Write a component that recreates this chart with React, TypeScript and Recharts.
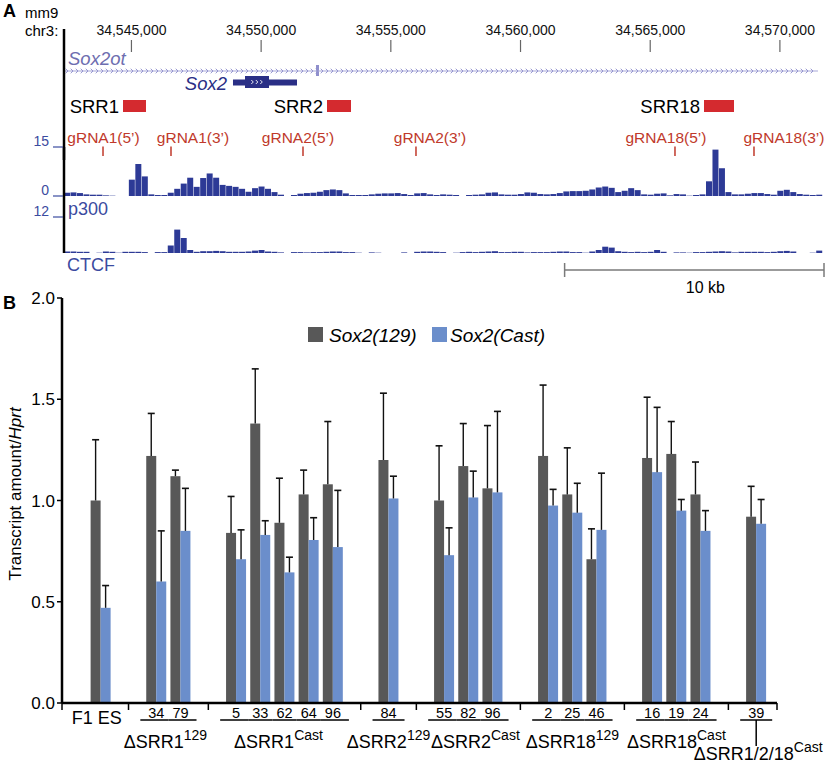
import React from 'react';
import {
  ComposedChart,
  BarChart,
  Bar,
  XAxis,
  YAxis,
  ReferenceLine,
  ReferenceArea,
  ReferenceDot,
} from 'recharts';

const FONT = '"Liberation Sans", Arial, Helvetica, sans-serif';

// ---------- panel A: mm9 chr3 browser view ----------
const genomeStart = 34542400;
const genomeEnd = 34571700;
const coordTicks = [34545000, 34550000, 34555000, 34560000, 34565000, 34570000];
const binSize = 250;

const srrNames = ['SRR1', 'SRR2', 'SRR18'];
const srrStarts = [34544675, 34552539, 34567073];
const srrEnds = [34545561, 34553464, 34568230];

const gRnaNames = ['gRNA1(5\u2019)', 'gRNA1(3\u2019)', 'gRNA2(5\u2019)', 'gRNA2(3\u2019)', 'gRNA18(5\u2019)', 'gRNA18(3\u2019)'];
const gRnaSites = [34543904, 34546525, 34551614, 34555970, 34565955, 34569001];

const sox2Gene = [34548915, 34551383];
const sox2Cds = [34549378, 34550303];
const sox2otSpan = [34542400, 34571468];
const sox2otExon = [34552115, 34552231];
const scaleBar = [34561700, 34571700];

// ChIP signal, 250 bp bins from genomeStart
const p300Signal = [
  1.0, 1.1, 0.9, 0.5, 0.4, 0.4, 0.2, 0.1, 0, 0,
  5.0, 9.8, 6.0, 0.5, 0.3, 0.3, 1.0, 2.2, 3.8, 5.6,
  2.8, 5.5, 6.9, 5.6, 3.4, 3.1, 2.8, 2.2, 1.3, 2.4,
  2.9, 2.2, 1.2, 0.4, 0, 0.3, 0.7, 0.9, 1.0, 1.3,
  1.8, 2.0, 1.8, 0.8, 0.3, 0.3, 0.3, 0.5, 0.7, 0.8,
  0.8, 0.9, 0.6, 0.3, 0.8, 0.9, 0.5, 0.3, 0.5, 0.4,
  0.3, 0, 0.3, 0.4, 0.5, 1.0, 1.1, 0.5, 0.4, 0.4,
  0.6, 1.1, 1.0, 0.6, 0.5, 0.6, 0.9, 1.4, 1.5, 1.5,
  1.6, 2.0, 2.6, 2.9, 2.5, 1.2, 1.6, 2.4, 1.8, 0.5,
  0.4, 0.7, 0.8, 0.2, 0.6, 0.5, 0.1, 0.3, 0.5, 4.5,
  14.2, 8.5, 1.2, 0.5, 0.5, 0.7, 0.9, 0.9, 0.6, 0.4,
  1.6, 1.9, 1.2, 0.6, 0.4, 0.3, 0.4,
];
const ctcfSignal = [
  0.5, 0.5, 0.4, 0.4, 0, 0.1, 0.5, 0.4, 0.1, 0.4,
  0.4, 0.4, 0.3, 0, 0.3, 0.3, 2.5, 7.8, 5.0, 1.0,
  0.4, 0.6, 0.6, 0.7, 0.6, 0.4, 0.4, 0.4, 0.5, 0.8,
  1.0, 0.5, 0.4, 0.2, 0, 0.3, 0.3, 0.2, 0.3, 0.3,
  0.4, 0.5, 0.5, 0.3, 0.3, 0.1, 0, 0.2, 0.1, 0,
  0, 0, 0.2, 0, 0.4, 0.5, 0.5, 0.4, 0.3, 0,
  0.1, 0.3, 0.4, 0.3, 0.4, 0.5, 0.6, 0.3, 0.3, 0.4,
  0.4, 0.2, 0.3, 0.3, 0.3, 0.4, 0.5, 0.5, 0.3, 0.3,
  0.1, 0.5, 1.0, 2.1, 1.8, 0.6, 0.4, 0.3, 0.4, 0.3,
  0.4, 1.0, 0.4, 0, 0.2, 0.2, 0.1, 0.3, 0.3, 0.4,
  0.5, 0.6, 0.5, 0.2, 0.4, 0.4, 0.4, 0.4, 0.3, 0.4,
  0.6, 0.7, 0.5, 0, 0, 0.1, 0.8,
];

// ---------- panel B: allele-specific Sox2 expression ----------
const groupNames = ['F1 ES', '\u0394SRR1', '\u0394SRR1', '\u0394SRR2', '\u0394SRR2', '\u0394SRR18', '\u0394SRR18', '\u0394SRR1/2/18'];
const groupAlleles = ['', '129', 'Cast', '129', 'Cast', '129', 'Cast', 'Cast'];
const clones = ['', '34', '79', '5', '33', '62', '64', '96', '84', '55', '82', '96', '2', '25', '46', '16', '19', '24', '39'];
const cloneGroup = [0, 1, 1, 2, 2, 2, 2, 2, 3, 4, 4, 4, 5, 5, 5, 6, 6, 6, 7];
const sox2_129 = [1.0, 1.22, 1.12, 0.84, 1.38, 0.89, 1.03, 1.08, 1.2, 1.0, 1.17, 1.06, 1.22, 1.03, 0.71, 1.21, 1.23, 1.03, 0.92];
const sox2_129Err = [0.3, 0.21, 0.03, 0.18, 0.27, 0.22, 0.12, 0.31, 0.33, 0.27, 0.21, 0.31, 0.35, 0.23, 0.15, 0.3, 0.16, 0.16, 0.15];
const sox2Cast = [0.47, 0.6, 0.85, 0.71, 0.83, 0.645, 0.805, 0.77, 1.01, 0.73, 1.015, 1.04, 0.975, 0.94, 0.855, 1.14, 0.95, 0.85, 0.885];
const sox2CastErr = [0.11, 0.25, 0.21, 0.145, 0.07, 0.075, 0.11, 0.28, 0.11, 0.135, 0.13, 0.4, 0.08, 0.145, 0.28, 0.32, 0.055, 0.1, 0.12];

// ---------- styling / layout ----------
const TRACK_BLUE = '#2d3a96';
const AXIS_BLUE = '#3b4ba0';
const GENE_NAVY = '#2a2f86';
const SOX2OT = '#8f8fcc';
const SRR_RED = '#d42a2f';
const GRNA_RED = '#c0392b';
const GRAY = '#585858';
const BLUE = '#6b8ecb';

const A_LEFT = 64;
const A_RIGHT = 824;
const PX_PER_BP = (A_RIGHT - A_LEFT) / (genomeEnd - genomeStart);
const gRnaLabelShift = [0.5, 22, -5, 14, -9, 30];
const groupLabelShift = [0, -3, -6, 0, 7, 0, 0, 2];

// annotation rows (px below the coordinate axis)
const rows = {
  sox2otLabel: 29, sox2ot: 42, exonTop: 36, exonBottom: 47,
  sox2Label: 54.5, utrTop: 50.5, utrBottom: 56.5, cdsTop: 47, cdsBottom: 59,
  srrTop: 71, srrBottom: 83, srrLabel: 77,
  gRnaLabel: 108, gRnaTop: 117.5, gRnaBottom: 127,
};

// panel B x layout: clone slots with extra space between groups
const GROUP_GAP = 1.3;
const uPos = clones.map((_, i) => i + GROUP_GAP * cloneGroup[i]);
const uLo = -1.6;
const uHi = uPos[uPos.length - 1] + 0.86;
const B_LEFT = 62;
const B_RIGHT = 777;
const PX_PER_U = (B_RIGHT - B_LEFT) / (uHi - uLo);
const boundaryTicks = [uLo, uHi];
for (let i = 1; i < uPos.length; i++) {
  if (cloneGroup[i] !== cloneGroup[i - 1]) boundaryTicks.push((uPos[i] + uPos[i - 1]) / 2);
}
const xTicks = [...boundaryTicks, ...uPos].sort((a, b) => a - b);

const barData = clones.map((c, i) => ({
  u: uPos[i],
  clone: c,
  g129: sox2_129[i],
  g129Err: sox2_129Err[i],
  cast: sox2Cast[i],
  castErr: sox2CastErr[i],
}));

const Txt = ({ left, cy, size, children, color = '#000', bold = false, italic = false }: any) => (
  <div
    style={{
      position: 'absolute', left, top: cy - size * 0.5, fontSize: size, lineHeight: `${size}px`,
      color, fontWeight: bold ? 700 : 400, fontStyle: italic ? 'italic' : 'normal', whiteSpace: 'nowrap',
    }}
  >
    {children}
  </div>
);

const textShape = (label: string, size: number, fill: string, anchor = 'middle', dx = 0, italic = false) => (p: any) => (
  <text
    x={p.cx + dx} y={p.cy} textAnchor={anchor} dominantBaseline="central" fontSize={size}
    fill={fill} fontStyle={italic ? 'italic' : 'normal'} fontFamily={FONT}
  >
    {label}
  </text>
);

const renderCoordTick = (p: any) => (
  <g>
    <text x={p.x} y={p.y + 1} textAnchor="middle" dominantBaseline="central" fontSize={14} fill="#111" fontFamily={FONT}>
      {Number(p.payload.value).toLocaleString('en-US')}
    </text>
    <line x1={p.x} x2={p.x} y1={p.y + 11} y2={p.y + 23} stroke="#666" strokeWidth={1.2} />
  </g>
);

const ChevronLine = (p: any) => {
  const { x1, y1, x2 } = p;
  const n = Math.floor((x2 - x1) / 5);
  let d = '';
  for (let i = 0; i < n; i++) {
    const cx = x1 + 3 + i * 5;
    d += `M${cx - 1.3},${y1 - 2.3}L${cx + 1},${y1}L${cx - 1.3},${y1 + 2.3}`;
  }
  return (
    <g>
      <line x1={x1} x2={x2} y1={y1} y2={y1} stroke="#a7a7d8" strokeWidth={1.1} />
      <path d={d} stroke={SOX2OT} fill="none" strokeWidth={0.9} />
    </g>
  );
};

const CdsArrows = (p: any) => {
  let d = '';
  for (let i = -1; i <= 1; i++) {
    const cx = p.cx + i * 4.5;
    d += `M${cx - 1.2},${p.cy - 2}L${cx + 0.8},${p.cy}L${cx - 1.2},${p.cy + 2}`;
  }
  return <path d={d} stroke="#fff" fill="none" strokeWidth={0.9} />;
};

const AnnotationTrack = () => (
  <ComposedChart width={825} height={160} data={coordTicks.map((c) => ({ c }))} margin={{ top: 0, right: 825 - A_RIGHT, bottom: 0, left: 0 }}>
    <XAxis
      type="number" dataKey="c" orientation="top" domain={[genomeStart, genomeEnd]} allowDataOverflow
      ticks={coordTicks} interval={0} height={29} axisLine={false} tickLine={false} tickSize={0} tickMargin={0}
      tick={renderCoordTick}
    />
    <YAxis
      type="number" domain={[0, 131]} reversed allowDataOverflow width={A_LEFT} tick={false}
      axisLine={{ stroke: '#000', strokeWidth: 2.5 }}
    />
    {/* Sox2ot */}
    <ReferenceLine
      segment={[{ x: sox2otSpan[0], y: rows.sox2ot }, { x: sox2otSpan[1], y: rows.sox2ot }]}
      shape={ChevronLine} ifOverflow="visible"
    />
    <ReferenceArea x1={sox2otExon[0]} x2={sox2otExon[1]} y1={rows.exonTop} y2={rows.exonBottom} fill={SOX2OT} fillOpacity={1} ifOverflow="visible" />
    <ReferenceDot x={genomeStart} y={rows.sox2otLabel} r={0} ifOverflow="visible" shape={textShape('Sox2ot', 18.5, '#6e6eb0', 'start', 4, true)} />
    {/* Sox2 */}
    <ReferenceArea x1={sox2Gene[0]} x2={sox2Gene[1]} y1={rows.utrTop} y2={rows.utrBottom} fill={GENE_NAVY} fillOpacity={1} ifOverflow="visible" />
    <ReferenceArea x1={sox2Cds[0]} x2={sox2Cds[1]} y1={rows.cdsTop} y2={rows.cdsBottom} fill={GENE_NAVY} fillOpacity={1} ifOverflow="visible" />
    <ReferenceDot x={(sox2Cds[0] + sox2Cds[1]) / 2} y={(rows.cdsTop + rows.cdsBottom) / 2} r={0} ifOverflow="visible" shape={CdsArrows} />
    <ReferenceDot x={sox2Gene[0]} y={rows.sox2Label} r={0} ifOverflow="visible" shape={textShape('Sox2', 18.5, GENE_NAVY, 'end', -6, true)} />
    {/* SRR deletions */}
    {srrNames.map((name, i) => (
      <ReferenceArea key={name} x1={srrStarts[i]} x2={srrEnds[i]} y1={rows.srrTop} y2={rows.srrBottom} fill={SRR_RED} fillOpacity={1} ifOverflow="visible" />
    ))}
    {srrNames.map((name, i) => (
      <ReferenceDot key={`l-${name}`} x={srrStarts[i]} y={rows.srrLabel} r={0} ifOverflow="visible" shape={textShape(name, 18.5, '#000', 'end', -4)} />
    ))}
    {/* gRNAs */}
    {gRnaNames.map((name, i) => (
      <ReferenceLine
        key={name} segment={[{ x: gRnaSites[i], y: rows.gRnaTop }, { x: gRnaSites[i], y: rows.gRnaBottom }]}
        stroke={GRNA_RED} strokeWidth={1.5} ifOverflow="visible"
      />
    ))}
    {gRnaNames.map((name, i) => (
      <ReferenceDot key={`l-${name}`} x={gRnaSites[i]} y={rows.gRnaLabel} r={0} ifOverflow="visible" shape={textShape(name, 15.5, GRNA_RED, 'middle', gRnaLabelShift[i])} />
    ))}
  </ComposedChart>
);

const renderTrackTick = (p: any) => (
  <g>
    <line x1={p.x - 11} x2={p.x - 1} y1={p.y} y2={p.y} stroke={AXIS_BLUE} strokeWidth={1.2} />
    <text x={p.x - 15} y={p.y - 6} textAnchor="end" dominantBaseline="central" fontSize={14} fill={AXIS_BLUE} fontFamily={FONT}>
      {p.payload.value}
    </text>
  </g>
);

// chart is drawn with a top margin so the top tick label is not clipped
const TRACK_TOP_PAD = 18;

const SignalTrack = ({ values, max, height, padBottom }: any) => {
  const data = values.map((v: number, i: number) => ({ pos: genomeStart + i * binSize, v }));
  const right = 825 - A_LEFT - values.length * binSize * PX_PER_BP;
  return (
    <BarChart width={825} height={height + TRACK_TOP_PAD} data={data} margin={{ top: TRACK_TOP_PAD, right, bottom: 0, left: 0 }} barCategoryGap={0}>
      <XAxis dataKey="pos" hide />
      <YAxis
        type="number" domain={[0, max]} ticks={[0, max]} allowDataOverflow width={A_LEFT}
        padding={{ top: 0, bottom: padBottom }} tickSize={0} tickMargin={0} tickLine={false}
        tick={renderTrackTick} axisLine={{ stroke: '#000', strokeWidth: 2.5 }}
      />
      <Bar dataKey="v" fill={TRACK_BLUE} isAnimationActive={false} />
    </BarChart>
  );
};

const ScaleBar = () => (
  <ComposedChart width={825} height={40} data={scaleBar.map((c) => ({ c }))} margin={{ top: 0, right: 825 - A_RIGHT, bottom: 0, left: A_LEFT }}>
    <XAxis type="number" dataKey="c" domain={[genomeStart, genomeEnd]} allowDataOverflow hide />
    <YAxis type="number" domain={[0, 40]} reversed allowDataOverflow hide />
    <ReferenceLine segment={[{ x: scaleBar[0], y: 15 }, { x: scaleBar[1], y: 15 }]} stroke="#7a7a7a" strokeWidth={1.5} ifOverflow="visible" />
    <ReferenceLine segment={[{ x: scaleBar[0], y: 8 }, { x: scaleBar[0], y: 22 }]} stroke="#7a7a7a" strokeWidth={1.5} ifOverflow="visible" />
    <ReferenceLine segment={[{ x: scaleBar[1], y: 8 }, { x: scaleBar[1], y: 22 }]} stroke="#7a7a7a" strokeWidth={1.5} ifOverflow="visible" />
    <ReferenceDot x={(scaleBar[0] + scaleBar[1]) / 2} y={32} r={0} ifOverflow="visible" shape={textShape('10 kb', 16, '#000', 'middle', 11)} />
  </ComposedChart>
);

const errorBarShape = (key: string, errKey: string, fill: string) => (p: any) => {
  const { x, y, width, height, payload } = p;
  const v = payload[key];
  const top = v > 0 ? y - (payload[errKey] * height) / v : y;
  const cx = x + width / 2;
  return (
    <g>
      <rect x={x} y={y} width={width} height={height} fill={fill} />
      <line x1={cx} x2={cx} y1={y} y2={top} stroke="#111" strokeWidth={1.4} />
      <line x1={cx - 3.5} x2={cx + 3.5} y1={top} y2={top} stroke="#111" strokeWidth={1.6} />
    </g>
  );
};

const renderCloneTick = (p: any) => {
  const { x, y, payload } = p;
  const v = payload.value;
  if (boundaryTicks.some((b) => Math.abs(b - v) < 1e-6)) {
    return <line x1={x} x2={x} y1={y} y2={y + 7} stroke="#000" strokeWidth={1.5} />;
  }
  const i = uPos.findIndex((u) => Math.abs(u - v) < 1e-6);
  if (i < 0) return <g />;
  const g = cloneGroup[i];
  if (g === 0) {
    return (
      <text x={x - 4} y={y + 15} textAnchor="middle" dominantBaseline="central" fontSize={18} fill="#000" fontFamily={FONT}>
        {groupNames[0]}
      </text>
    );
  }
  const first = cloneGroup[i - 1] !== g;
  const last = cloneGroup[i + 1] !== g;
  const half = PX_PER_U / 2;
  let groupLabel = null;
  if (first) {
    let lastIdx = i;
    while (cloneGroup[lastIdx + 1] === g) lastIdx++;
    const cx = x + ((uPos[lastIdx] - uPos[i]) / 2) * PX_PER_U;
    const isFinal = g === groupNames.length - 1;
    groupLabel = (
      <g>
        {isFinal && <line x1={cx} x2={cx} y1={y + 17} y2={y + 43} stroke="#000" strokeWidth={1.5} />}
        <text x={cx + groupLabelShift[g]} y={isFinal ? y + 57 : y + 45} textAnchor="middle" fontSize={18} fill="#000" fontFamily={FONT}>
          {groupNames[g]}
          <tspan fontSize={14} dy={-8}>{groupAlleles[g]}</tspan>
        </text>
      </g>
    );
  }
  return (
    <g>
      <text x={x} y={y + 10} textAnchor="middle" dominantBaseline="central" fontSize={14.5} fill="#000" fontFamily={FONT}>
        {clones[i]}
      </text>
      <line x1={first ? x - 16 : x - half} x2={last ? x + 16 : x + half} y1={y + 17} y2={y + 17} stroke="#000" strokeWidth={1.5} />
      {groupLabel}
    </g>
  );
};

const ExpressionChart = () => (
  <BarChart width={825} height={485} data={barData} margin={{ top: 18, right: 825 - B_RIGHT, bottom: 0, left: 0 }} barGap={0}>
    <XAxis
      type="number" dataKey="u" domain={[uLo, uHi]} allowDataOverflow ticks={xTicks} interval={0} height={62}
      tickSize={0} tickMargin={0} tickLine={false} axisLine={{ stroke: '#000', strokeWidth: 2.5 }} tick={renderCloneTick}
    />
    <YAxis
      type="number" domain={[0, 2]} ticks={[0, 0.5, 1, 1.5, 2]} width={B_LEFT}
      tickFormatter={(v: number) => v.toFixed(1)} tick={{ fontSize: 17, fill: '#000', fontFamily: FONT }}
      tickSize={5} tickLine={{ stroke: '#000', strokeWidth: 1.5 }} axisLine={{ stroke: '#000', strokeWidth: 2.5 }}
    />
    <Bar dataKey="g129" barSize={10} fill={GRAY} shape={errorBarShape('g129', 'g129Err', GRAY)} isAnimationActive={false} />
    <Bar dataKey="cast" barSize={10} fill={BLUE} shape={errorBarShape('cast', 'castErr', BLUE)} isAnimationActive={false} />
  </BarChart>
);

export default function App() {
  return (
    <div style={{ position: 'absolute', left: 0, top: 0, width: 825, height: 765, background: '#fff', fontFamily: FONT, overflow: 'hidden' }}>
      <div style={{ position: 'absolute', left: 0, top: 0 }}><AnnotationTrack /></div>
      <div style={{ position: 'absolute', left: 0, top: 147 - TRACK_TOP_PAD }}>
        <SignalTrack values={p300Signal} max={15} height={70} padBottom={21} />
      </div>
      <div style={{ position: 'absolute', left: 0, top: 217 - TRACK_TOP_PAD }}>
        <SignalTrack values={ctcfSignal} max={12} height={36} padBottom={0} />
      </div>
      <div style={{ position: 'absolute', left: 0, top: 255 }}><ScaleBar /></div>
      <div style={{ position: 'absolute', left: 0, top: 280 }}><ExpressionChart /></div>

      <Txt left={3} cy={11} size={18} bold>A</Txt>
      <Txt left={25} cy={12} size={15}>mm9</Txt>
      <Txt left={25} cy={30} size={15}>chr3:</Txt>
      <Txt left={68} cy={209} size={18} color={AXIS_BLUE}>p300</Txt>
      <Txt left={67} cy={265} size={18} color={AXIS_BLUE}>CTCF</Txt>

      <Txt left={3} cy={303} size={18} bold>B</Txt>
      <div
        style={{
          position: 'absolute', left: 15, top: 494, transform: 'translate(-50%, -50%) rotate(-90deg)',
          fontSize: 17, lineHeight: '17px', whiteSpace: 'nowrap',
        }}
      >
        Transcript amount/<i>Hprt</i>
      </div>
      <div style={{ position: 'absolute', left: 308, top: 327, width: 15, height: 15, background: GRAY }} />
      <Txt left={329} cy={335} size={19} italic>Sox2(129)</Txt>
      <div style={{ position: 'absolute', left: 432, top: 327, width: 15, height: 15, background: BLUE }} />
      <Txt left={450} cy={335} size={19} italic>Sox2(Cast)</Txt>
    </div>
  );
}
